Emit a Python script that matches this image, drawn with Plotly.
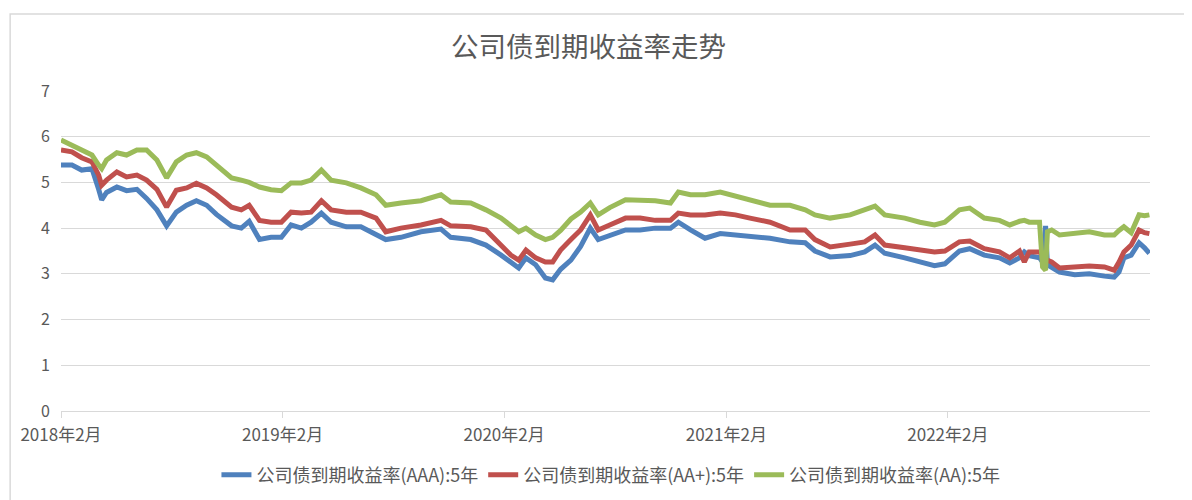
import plotly.graph_objects as go

dates = [
    "2018-02-01", "2018-02-19", "2018-03-07", "2018-03-24", "2018-04-04", "2018-04-09", "2018-04-17",
    "2018-05-04", "2018-05-20", "2018-06-06", "2018-06-22", "2018-07-09", "2018-07-25", "2018-08-10",
    "2018-08-27", "2018-09-12", "2018-09-29", "2018-10-15", "2018-11-09", "2018-11-25", "2018-12-08",
    "2018-12-25", "2019-01-13", "2019-01-30", "2019-02-15", "2019-03-04", "2019-03-20", "2019-04-06",
    "2019-04-22", "2019-05-17", "2019-06-10", "2019-07-05", "2019-07-21", "2019-08-15", "2019-09-17",
    "2019-10-20", "2019-11-05", "2019-12-08", "2020-01-02", "2020-01-27", "2020-02-12", "2020-02-25",
    "2020-03-08", "2020-03-24", "2020-04-09", "2020-04-21", "2020-05-04", "2020-05-21", "2020-06-06",
    "2020-06-22", "2020-07-05", "2020-07-24", "2020-08-19", "2020-09-12", "2020-10-07", "2020-11-01",
    "2020-11-14", "2020-12-04", "2020-12-28", "2021-01-22", "2021-02-16", "2021-03-12", "2021-04-14",
    "2021-05-17", "2021-06-11", "2021-06-27", "2021-07-22", "2021-08-24", "2021-09-17", "2021-10-04",
    "2021-10-20", "2021-11-22", "2021-12-17", "2022-01-10", "2022-01-27", "2022-02-20", "2022-03-09",
    "2022-04-02", "2022-04-27", "2022-05-14", "2022-05-30", "2022-06-07", "2022-06-15", "2022-07-02",
    "2022-07-07", "2022-07-12", "2022-07-15", "2022-07-22", "2022-08-04", "2022-08-29", "2022-09-22",
    "2022-10-17", "2022-11-02", "2022-11-10", "2022-11-18", "2022-11-30", "2022-12-13", "2022-12-22",
    "2022-12-30",
]

aaa = [
    5.38, 5.38, 5.27, 5.30, 4.85, 4.62, 4.78, 4.90, 4.82, 4.85, 4.65, 4.40, 4.05, 4.35,
    4.50, 4.60, 4.50, 4.30, 4.05, 4.00, 4.15, 3.75, 3.80, 3.80, 4.07, 4.00, 4.13, 4.33,
    4.13, 4.03, 4.03, 3.85, 3.75, 3.80, 3.92, 3.98, 3.80, 3.75, 3.63, 3.41, 3.26, 3.13,
    3.35, 3.20, 2.91, 2.87, 3.10, 3.30, 3.60, 4.00, 3.75, 3.85, 3.96, 3.96, 4.00, 4.00,
    4.13, 3.96, 3.78, 3.88, 3.85, 3.82, 3.78, 3.70, 3.68, 3.50, 3.37, 3.40, 3.48, 3.63,
    3.45, 3.35, 3.26, 3.18, 3.22, 3.50, 3.55, 3.41, 3.35, 3.24, 3.35, 3.48, 3.40, 3.35,
    3.26, 4.05, 3.20, 3.15, 3.04, 2.98, 3.00, 2.95, 2.93, 3.04, 3.35, 3.41, 3.68, 3.57,
    3.45,
]

aa_plus = [
    5.71, 5.67, 5.54, 5.45, 5.16, 4.94, 5.05, 5.23, 5.12, 5.16, 5.05, 4.85, 4.46, 4.83,
    4.88, 4.98, 4.88, 4.73, 4.46, 4.40, 4.50, 4.17, 4.13, 4.13, 4.35, 4.33, 4.35, 4.60,
    4.40, 4.35, 4.35, 4.22, 3.92, 4.00, 4.07, 4.17, 4.05, 4.03, 3.96, 3.63, 3.41, 3.30,
    3.52, 3.35, 3.26, 3.26, 3.52, 3.75, 3.96, 4.29, 3.96, 4.07, 4.22, 4.22, 4.17, 4.17,
    4.33, 4.29, 4.29, 4.33, 4.29, 4.22, 4.13, 3.96, 3.96, 3.75, 3.59, 3.65, 3.70, 3.85,
    3.63, 3.57, 3.52, 3.48, 3.50, 3.70, 3.72, 3.55, 3.48, 3.35, 3.50, 3.26, 3.48, 3.48,
    3.40, 3.30, 3.30, 3.26, 3.13, 3.15, 3.17, 3.15, 3.08, 3.26, 3.48, 3.63, 3.96, 3.90,
    3.88,
]

aa = [
    5.93, 5.82, 5.71, 5.60, 5.38, 5.30, 5.49, 5.65, 5.60, 5.71, 5.71, 5.49, 5.10, 5.45,
    5.60, 5.65, 5.56, 5.38, 5.10, 5.05, 5.00, 4.90, 4.84, 4.82, 4.99, 4.99, 5.05, 5.27,
    5.05, 4.99, 4.88, 4.73, 4.50, 4.55, 4.60, 4.73, 4.57, 4.55, 4.40, 4.22, 4.07, 3.92,
    4.00, 3.85, 3.75, 3.80, 3.95, 4.20, 4.35, 4.55, 4.29, 4.45, 4.62, 4.62, 4.60, 4.55,
    4.79, 4.73, 4.73, 4.79, 4.70, 4.60, 4.50, 4.50, 4.40, 4.29, 4.22, 4.29, 4.40, 4.48,
    4.29, 4.22, 4.13, 4.07, 4.13, 4.40, 4.44, 4.22, 4.17, 4.07, 4.15, 4.17, 4.13, 4.13,
    3.15, 3.08, 3.92, 3.96, 3.85, 3.88, 3.92, 3.85, 3.85, 3.95, 4.03, 3.90, 4.29, 4.27,
    4.29,
]

series_names = [
    "公司债到期收益率(AAA):5年",
    "公司债到期收益率(AA+):5年",
    "公司债到期收益率(AA):5年",
]
series_colors = ["#4F81BD", "#C0504D", "#9BBB59"]

tick_vals = ["2018-02-01", "2019-02-01", "2020-02-01", "2021-02-01", "2022-02-01"]
tick_text = ["2018年2月", "2019年2月", "2020年2月", "2021年2月", "2022年2月"]

FONT = "Noto Sans CJK SC"
TXT = "#595959"
GRID = "#D9D9D9"

fig = go.Figure()
for name, vals, col in zip(series_names, [aaa, aa_plus, aa], series_colors):
    fig.add_trace(go.Scatter(
        x=dates, y=vals, mode="lines", name=name,
        line=dict(color=col, width=5),
    ))

fig.update_layout(
    width=1192, height=500,
    paper_bgcolor="white", plot_bgcolor="white",
    margin=dict(l=51, r=50, t=83, b=97),
    title=dict(text="公司债到期收益率走势", x=0.487, xanchor="center", y=0.922, yanchor="middle",
               font=dict(family=FONT, size=27.5, color=TXT)),
    font=dict(family=FONT, size=16, color=TXT),
    legend=dict(orientation="h", x=0.505, xanchor="center", y=-0.2, yanchor="middle",
                font=dict(family=FONT, size=18, color=TXT), tracegroupgap=0),
    showlegend=True,
    xaxis=dict(
        type="date", range=["2018-02-01", "2022-12-31"],
        tickmode="array", tickvals=tick_vals, ticktext=tick_text,
        showgrid=False, showline=True, linecolor=GRID, linewidth=1,
        ticks="outside", ticklen=6, tickcolor=GRID,
        tickfont=dict(family=FONT, size=17, color=TXT),
        ticklabelstandoff=3,
        zeroline=False,
    ),
    yaxis=dict(
        range=[0, 7], dtick=1, tick0=0,
        showgrid=True, gridcolor=GRID, gridwidth=1,
        zeroline=False, showline=False, ticks="",
        tickfont=dict(family=FONT, size=16, color=TXT),
        ticklabelstandoff=10,
    ),
    shapes=[dict(type="rect", xref="paper", yref="paper",
                 x0=-0.0467, x1=1.06, y0=-0.35, y1=1.2406,
                 line=dict(color=GRID, width=1.5), fillcolor="rgba(0,0,0,0)", layer="below")],
)

fig.write_html("out.html")
